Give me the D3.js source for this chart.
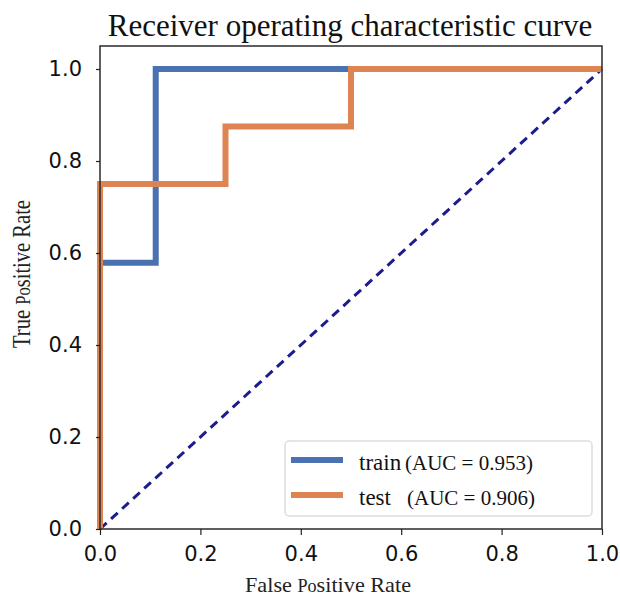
<!DOCTYPE html>
<html>
<head>
<meta charset="utf-8">
<script src="https://d3js.org/d3.v7.min.js"></script>
<style>
  body { margin: 0; background: #fff; }
</style>
</head>
<body>
<script>
// ROC data
var trainFpr = [0, 0, 0.111, 0.111, 1];
var trainTpr = [0, 0.579, 0.579, 1, 1];
var testFpr = [0, 0, 0.25, 0.25, 0.5, 0.5, 1];
var testTpr = [0, 0.75, 0.75, 0.875, 0.875, 1, 1];
var chanceX = [0, 1];
var chanceY = [0, 1];
var tickVals = [0, 0.2, 0.4, 0.6, 0.8, 1.0];
var seriesNames = ["train", "test"];
var aucLabels = ["(AUC = 0.953)", "(AUC = 0.906)"];
var colors = ["#4a72b0", "#dd8452"];

var W = 620, H = 596;
var margin = {top: 46, left: 100, right: 18, bottom: 67};

var svg = d3.select("body").append("svg")
  .attr("width", W)
  .attr("height", H);

var x = d3.scaleLinear().domain([0, 1]).range([margin.left, W - margin.right]);
var y = d3.scaleLinear().domain([0, 1.05]).range([H - margin.bottom, margin.top]);

// curves
var line = d3.line().x(function(d){ return x(d[0]); }).y(function(d){ return y(d[1]); });

var train = trainFpr.map(function(v, i){ return [v, trainTpr[i]]; });
var test = testFpr.map(function(v, i){ return [v, testTpr[i]]; });
var chance = chanceX.map(function(v, i){ return [v, chanceY[i]]; });

var plot = svg.append("g");
plot.append("path").datum(chance)
  .attr("d", line)
  .attr("fill", "none")
  .attr("stroke", "#1c1c8c")
  .attr("stroke-width", 3)
  .attr("stroke-dasharray", "9,6");
plot.append("path").datum(train)
  .attr("d", line)
  .attr("fill", "none")
  .attr("stroke", colors[0])
  .attr("stroke-width", 6);
plot.append("path").datum(test)
  .attr("d", line)
  .attr("fill", "none")
  .attr("stroke", colors[1])
  .attr("stroke-width", 6);

// frame
svg.append("rect")
  .attr("x", x(0)).attr("y", y(1.05))
  .attr("width", x(1) - x(0)).attr("height", y(0) - y(1.05))
  .attr("fill", "none")
  .attr("stroke", "#2a2a2a")
  .attr("stroke-width", 1.5);

// axes
var xAx = d3.axisBottom(x).tickValues(tickVals).tickFormat(d3.format(".1f")).tickSize(6).tickPadding(11);
var yAx = d3.axisLeft(y).tickValues(tickVals).tickFormat(d3.format(".1f")).tickSize(4).tickPadding(14);

var gx = svg.append("g").attr("transform", "translate(0," + y(0) + ")").call(xAx);
var gy = svg.append("g").attr("transform", "translate(" + x(0) + ",0)").call(yAx);
[gx, gy].forEach(function(g){
  g.select(".domain").remove();
  g.selectAll("line").attr("stroke", "#222").attr("stroke-width", 1.2);
  g.selectAll("text")
    .attr("fill", "#111")
    .style("font-family", "DejaVu Sans, sans-serif")
    .style("font-size", "21px");
});

// title and labels
svg.append("text")
  .attr("x", 350)
  .attr("y", 36)
  .attr("text-anchor", "middle")
  .style("font-family", "Liberation Serif, serif")
  .style("font-size", "31px")
  .attr("fill", "#111")
  .text("Receiver operating characteristic curve");

var xl = svg.append("text")
  .attr("x", 245)
  .attr("y", 592)
  .attr("textLength", 166)
  .attr("lengthAdjust", "spacingAndGlyphs")
  .style("font-family", "Liberation Serif, serif")
  .style("font-size", "22px")
  .attr("fill", "#222");
xl.append("tspan").text("False ");
xl.append("tspan").style("font-size", "18px").text("Po");
xl.append("tspan").text("sitive Rate");

var yl = svg.append("text")
  .attr("transform", "translate(30,348) rotate(-90)")
  .attr("textLength", 148)
  .attr("lengthAdjust", "spacingAndGlyphs")
  .style("font-family", "Liberation Serif, serif")
  .style("font-size", "26px")
  .attr("fill", "#222");
yl.append("tspan").text("True ");
yl.append("tspan").style("font-size", "21px").text("Po");
yl.append("tspan").text("sitive Rate");

// legend
var leg = svg.append("g").attr("transform", "translate(285,441)");
leg.append("rect")
  .attr("width", 307).attr("height", 75)
  .attr("rx", 4)
  .attr("fill", "#fff")
  .attr("fill-opacity", 0.85)
  .attr("stroke", "#ddd")
  .attr("stroke-width", 1.5);
seriesNames.forEach(function(name, i){
  var ly = 19 + i * 35;
  leg.append("line")
    .attr("x1", 6).attr("x2", 58)
    .attr("y1", ly).attr("y2", ly)
    .attr("stroke", colors[i])
    .attr("stroke-width", 6);
  leg.append("text")
    .attr("x", 74).attr("y", ly + 10)
    .style("font-family", "Liberation Serif, serif")
    .style("font-size", "23px")
    .attr("fill", "#111")
    .text(name);
  leg.append("text")
    .attr("x", i === 0 ? 120 : 122).attr("y", ly + 10)
    .attr("textLength", 128)
    .attr("lengthAdjust", "spacingAndGlyphs")
    .style("font-family", "Liberation Serif, serif")
    .style("font-size", i === 0 ? "21px" : "22px")
    .attr("fill", "#111")
    .text(aucLabels[i]);
});
</script>
</body>
</html>
